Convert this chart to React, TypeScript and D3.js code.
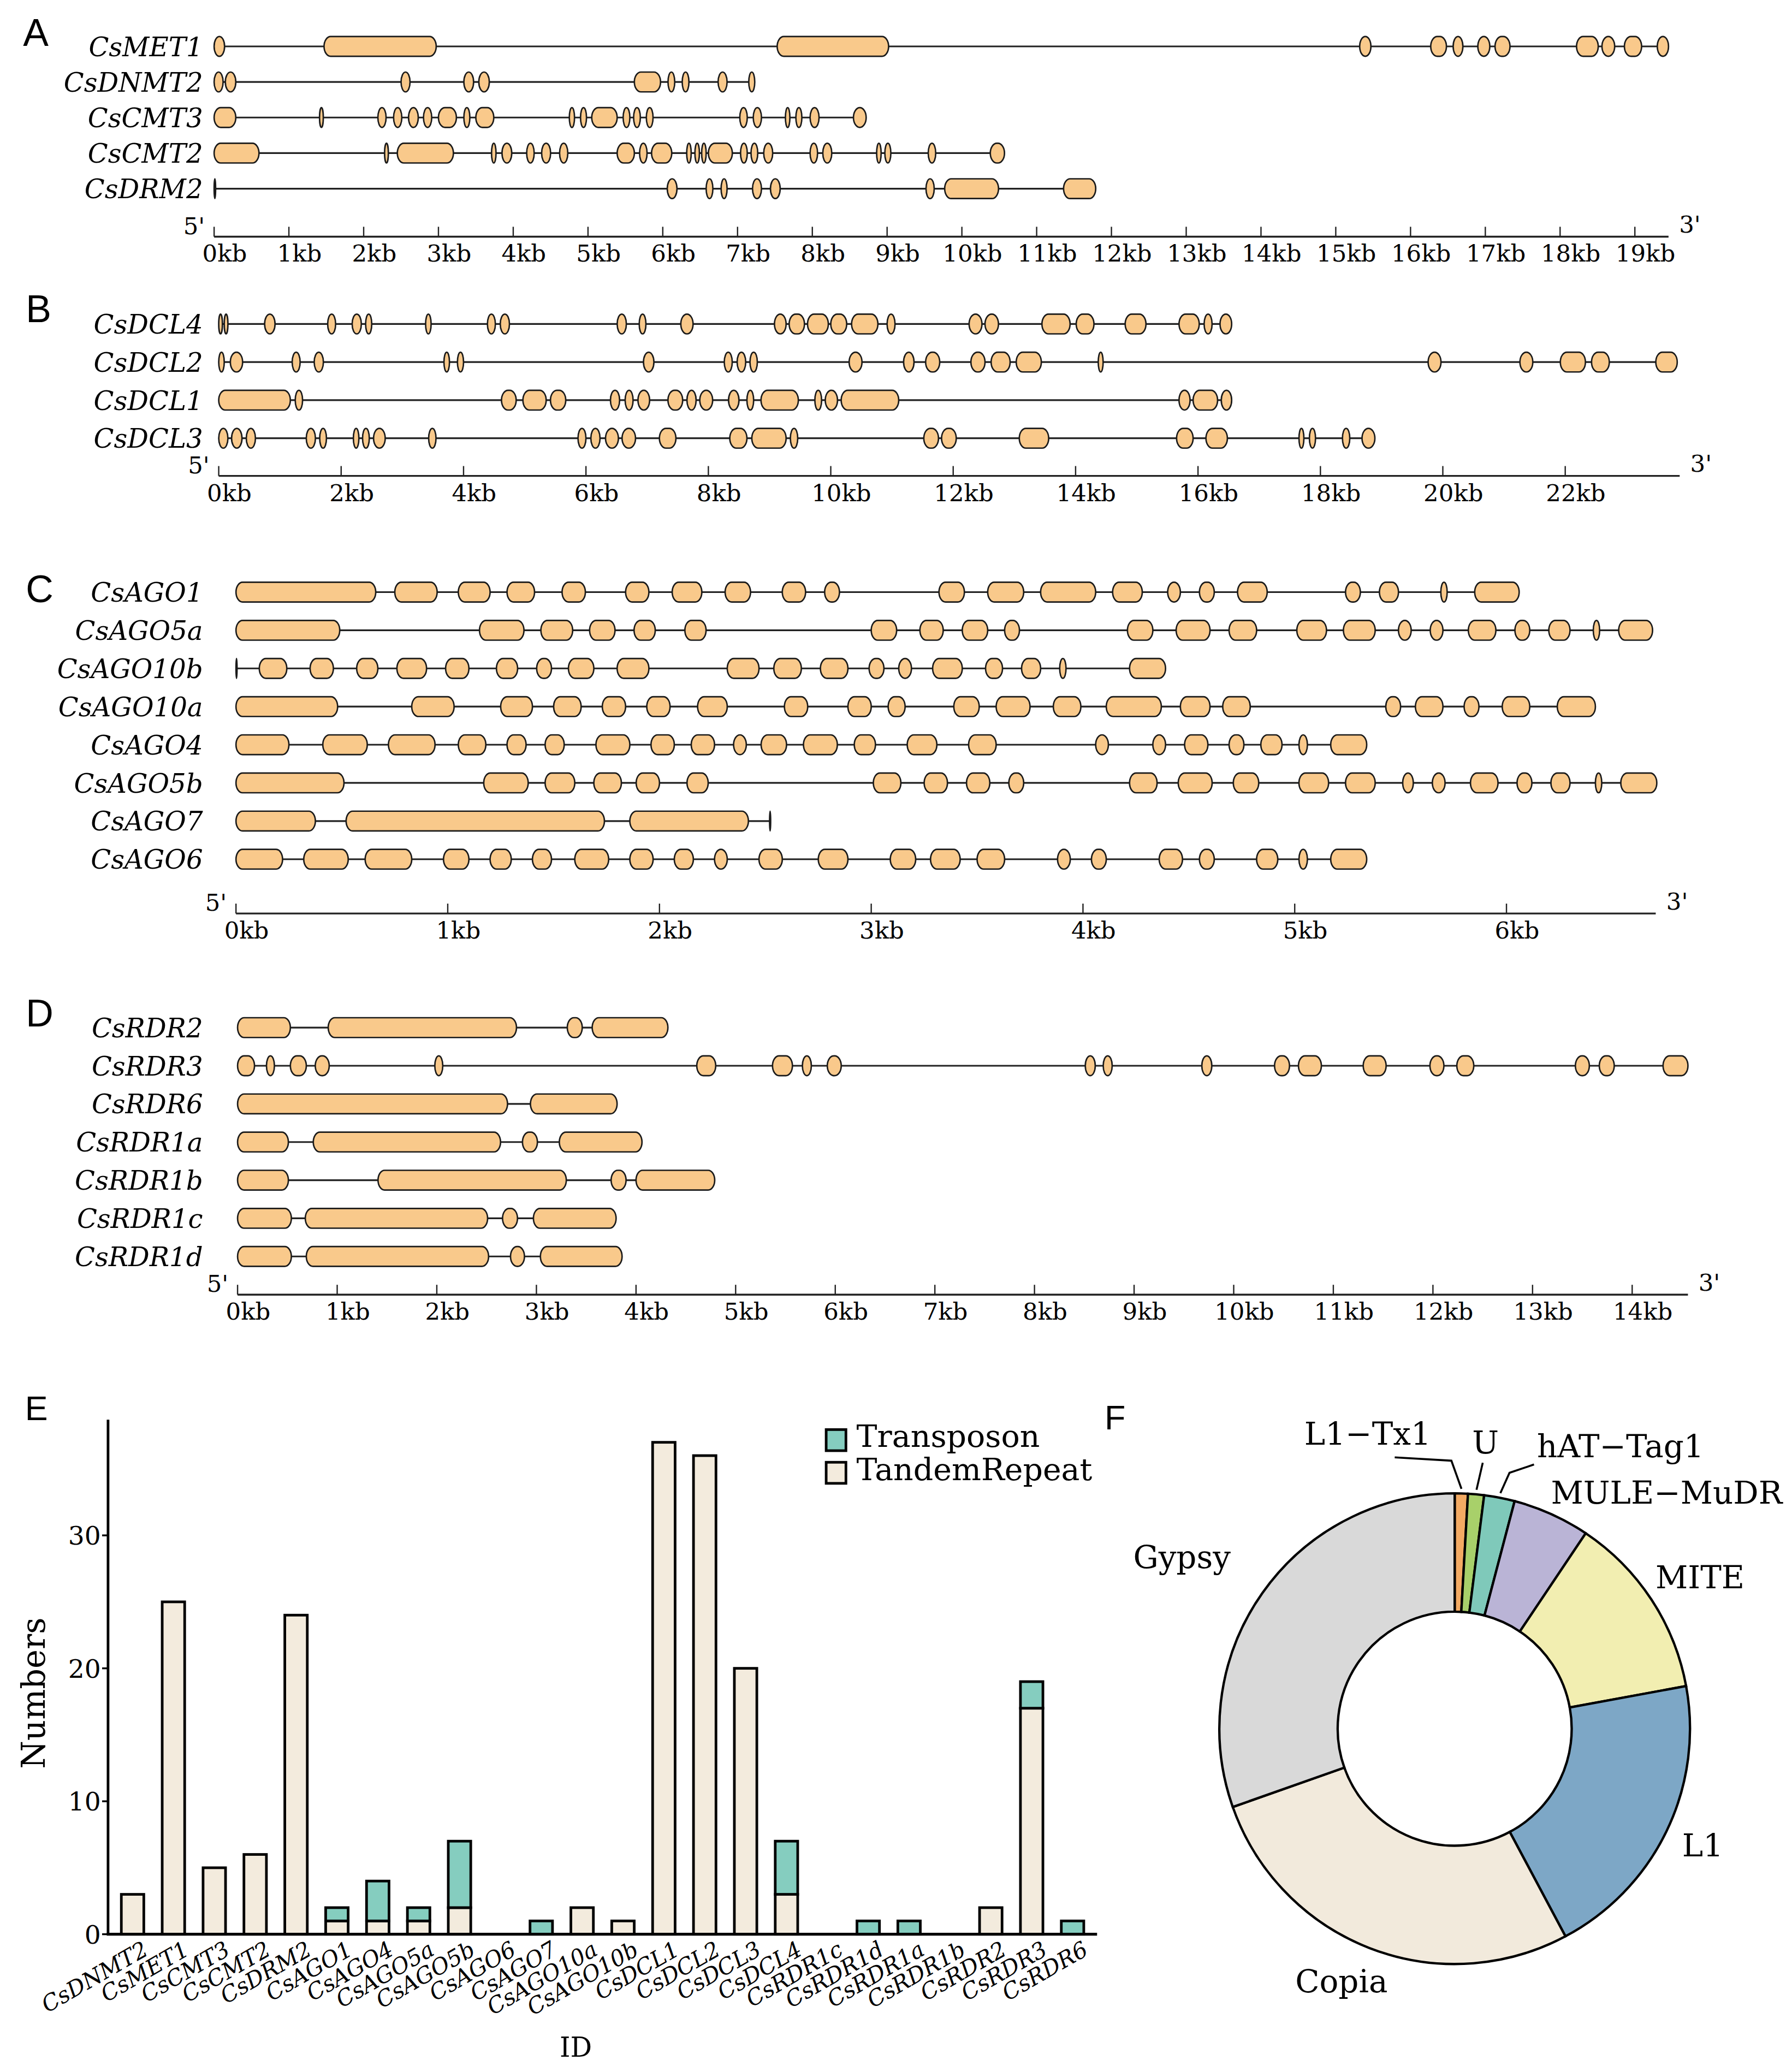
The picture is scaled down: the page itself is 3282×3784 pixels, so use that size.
import React from "react";
import * as d3 from "d3";

// ---------------- DATA ----------------
type Gene = { name: string; exons: [number, number][] };

const panelAGenes: Gene[] = [
  { name: "CsMET1", exons: [[0, 0.14], [1.47, 2.97], [7.53, 9.02], [15.32, 15.47], [16.27, 16.48], [16.57, 16.7], [16.9, 17.06], [17.13, 17.33], [18.22, 18.51], [18.56, 18.73], [18.86, 19.09], [19.3, 19.45]] },
  { name: "CsDNMT2", exons: [[0, 0.12], [0.15, 0.29], [2.5, 2.62], [3.34, 3.47], [3.54, 3.68], [5.62, 5.97], [6.07, 6.16], [6.26, 6.35], [6.74, 6.86], [7.15, 7.23]] },
  { name: "CsCMT3", exons: [[0, 0.29], [1.41, 1.46], [2.19, 2.3], [2.4, 2.51], [2.6, 2.73], [2.8, 2.91], [3.0, 3.24], [3.34, 3.42], [3.5, 3.74], [4.75, 4.82], [4.9, 4.98], [5.05, 5.39], [5.47, 5.56], [5.61, 5.7], [5.78, 5.87], [7.03, 7.13], [7.21, 7.32], [7.64, 7.7], [7.78, 7.86], [7.97, 8.09], [8.55, 8.72]] },
  { name: "CsCMT2", exons: [[0, 0.6], [2.28, 2.33], [2.45, 3.2], [3.71, 3.77], [3.85, 3.98], [4.18, 4.28], [4.38, 4.5], [4.62, 4.73], [5.39, 5.62], [5.69, 5.79], [5.85, 6.12], [6.32, 6.38], [6.43, 6.49], [6.52, 6.58], [6.61, 6.93], [7.04, 7.13], [7.18, 7.27], [7.35, 7.47], [7.97, 8.07], [8.14, 8.26], [8.86, 8.92], [8.97, 9.05], [9.55, 9.65], [10.38, 10.57]] },
  { name: "CsDRM2", exons: [[0, 0.02], [6.06, 6.19], [6.58, 6.67], [6.78, 6.86], [7.2, 7.32], [7.44, 7.57], [9.52, 9.63], [9.77, 10.49], [11.36, 11.79]] },
];

const panelBGenes: Gene[] = [
  { name: "CsDCL4", exons: [[0, 0.06], [0.09, 0.15], [0.75, 0.92], [1.78, 1.91], [2.18, 2.33], [2.4, 2.5], [3.38, 3.47], [4.39, 4.52], [4.6, 4.75], [6.51, 6.66], [6.87, 6.98], [7.55, 7.75], [9.08, 9.27], [9.32, 9.57], [9.62, 9.96], [10.0, 10.26], [10.34, 10.77], [10.92, 11.05], [12.26, 12.47], [12.52, 12.74], [13.45, 13.91], [14.01, 14.3], [14.81, 15.15], [15.69, 16.02], [16.1, 16.23], [16.36, 16.55]] },
  { name: "CsDCL2", exons: [[0, 0.09], [0.19, 0.39], [1.2, 1.33], [1.56, 1.71], [3.68, 3.77], [3.9, 4.0], [6.94, 7.11], [8.26, 8.39], [8.47, 8.61], [8.68, 8.8], [10.3, 10.51], [11.19, 11.36], [11.55, 11.78], [12.29, 12.52], [12.62, 12.93], [13.03, 13.44], [14.37, 14.45], [19.76, 19.97], [21.26, 21.47], [21.92, 22.33], [22.43, 22.72], [23.48, 23.83]] },
  { name: "CsDCL1", exons: [[0, 1.17], [1.25, 1.37], [4.62, 4.86], [4.97, 5.35], [5.42, 5.67], [6.4, 6.55], [6.64, 6.77], [6.85, 7.04], [7.34, 7.58], [7.65, 7.8], [7.86, 8.07], [8.33, 8.5], [8.63, 8.74], [8.86, 9.47], [9.74, 9.85], [9.91, 10.11], [10.17, 11.11], [15.69, 15.87], [15.92, 16.32], [16.38, 16.55]] },
  { name: "CsDCL3", exons: [[0, 0.15], [0.21, 0.38], [0.45, 0.6], [1.43, 1.58], [1.65, 1.76], [2.2, 2.29], [2.35, 2.46], [2.53, 2.72], [3.43, 3.55], [5.87, 6.0], [6.08, 6.23], [6.32, 6.53], [6.59, 6.81], [7.2, 7.47], [8.35, 8.63], [8.71, 9.27], [9.34, 9.46], [11.52, 11.76], [11.81, 12.05], [13.08, 13.56], [15.65, 15.92], [16.13, 16.48], [17.65, 17.73], [17.82, 17.92], [18.36, 18.48], [18.68, 18.89]] },
];

const panelCGenes: Gene[] = [
  { name: "CsAGO1", exons: [[0, 0.66], [0.75, 0.95], [1.05, 1.2], [1.28, 1.41], [1.54, 1.65], [1.84, 1.95], [2.06, 2.2], [2.31, 2.43], [2.58, 2.69], [2.78, 2.85], [3.32, 3.44], [3.55, 3.72], [3.8, 4.06], [4.14, 4.28], [4.4, 4.46], [4.55, 4.62], [4.73, 4.87], [5.24, 5.31], [5.4, 5.49], [5.69, 5.72], [5.85, 6.06]] },
  { name: "CsAGO5a", exons: [[0, 0.49], [1.15, 1.36], [1.44, 1.59], [1.67, 1.79], [1.88, 1.98], [2.12, 2.22], [3.0, 3.12], [3.23, 3.34], [3.43, 3.55], [3.63, 3.7], [4.21, 4.33], [4.44, 4.6], [4.69, 4.82], [5.01, 5.15], [5.23, 5.38], [5.49, 5.55], [5.64, 5.7], [5.82, 5.95], [6.04, 6.11], [6.2, 6.3], [6.41, 6.44], [6.53, 6.69]] },
  { name: "CsAGO10b", exons: [[0, 0.005], [0.11, 0.24], [0.35, 0.46], [0.57, 0.67], [0.76, 0.9], [0.99, 1.1], [1.23, 1.33], [1.42, 1.49], [1.57, 1.69], [1.8, 1.95], [2.32, 2.47], [2.54, 2.67], [2.76, 2.89], [2.99, 3.06], [3.13, 3.19], [3.29, 3.43], [3.54, 3.62], [3.71, 3.8], [3.89, 3.92], [4.22, 4.39]] },
  { name: "CsAGO10a", exons: [[0, 0.48], [0.83, 1.03], [1.25, 1.4], [1.5, 1.63], [1.73, 1.84], [1.94, 2.05], [2.18, 2.32], [2.59, 2.7], [2.89, 3.0], [3.08, 3.16], [3.39, 3.51], [3.59, 3.75], [3.86, 3.99], [4.11, 4.37], [4.46, 4.6], [4.66, 4.79], [5.43, 5.5], [5.57, 5.7], [5.8, 5.87], [5.98, 6.11], [6.24, 6.42]] },
  { name: "CsAGO4", exons: [[0, 0.25], [0.41, 0.62], [0.72, 0.94], [1.05, 1.18], [1.28, 1.37], [1.46, 1.55], [1.7, 1.86], [1.96, 2.07], [2.15, 2.26], [2.35, 2.41], [2.48, 2.6], [2.68, 2.84], [2.92, 3.02], [3.17, 3.31], [3.46, 3.59], [4.06, 4.12], [4.33, 4.39], [4.48, 4.59], [4.69, 4.76], [4.84, 4.94], [5.02, 5.06], [5.17, 5.34]] },
  { name: "CsAGO5b", exons: [[0, 0.51], [1.17, 1.38], [1.46, 1.6], [1.69, 1.82], [1.89, 2.0], [2.13, 2.23], [3.01, 3.14], [3.25, 3.36], [3.45, 3.56], [3.65, 3.72], [4.22, 4.35], [4.45, 4.61], [4.71, 4.83], [5.02, 5.16], [5.24, 5.38], [5.51, 5.56], [5.65, 5.71], [5.83, 5.96], [6.05, 6.12], [6.21, 6.3], [6.42, 6.45], [6.54, 6.71]] },
  { name: "CsAGO7", exons: [[0, 0.375], [0.52, 1.74], [1.86, 2.42], [2.52, 2.525]] },
  { name: "CsAGO6", exons: [[0, 0.22], [0.32, 0.53], [0.61, 0.83], [0.98, 1.1], [1.2, 1.3], [1.4, 1.49], [1.6, 1.76], [1.86, 1.97], [2.07, 2.16], [2.26, 2.32], [2.47, 2.58], [2.75, 2.89], [3.09, 3.21], [3.28, 3.42], [3.5, 3.63], [3.88, 3.94], [4.04, 4.11], [4.36, 4.47], [4.55, 4.62], [4.82, 4.92], [5.02, 5.06], [5.17, 5.34]] },
];

const panelDGenes: Gene[] = [
  { name: "CsRDR2", exons: [[0, 0.53], [0.91, 2.8], [3.31, 3.46], [3.56, 4.32]] },
  { name: "CsRDR3", exons: [[0, 0.17], [0.29, 0.37], [0.53, 0.69], [0.78, 0.92], [1.98, 2.06], [4.61, 4.8], [5.37, 5.57], [5.67, 5.76], [5.92, 6.06], [8.51, 8.61], [8.69, 8.78], [9.68, 9.78], [10.41, 10.56], [10.65, 10.88], [11.3, 11.53], [11.97, 12.11], [12.24, 12.41], [13.43, 13.57], [13.67, 13.82], [14.31, 14.56]] },
  { name: "CsRDR6", exons: [[0, 2.71], [2.94, 3.81]] },
  { name: "CsRDR1a", exons: [[0, 0.51], [0.76, 2.64], [2.86, 3.01], [3.23, 4.06]] },
  { name: "CsRDR1b", exons: [[0, 0.51], [1.41, 3.3], [3.75, 3.9], [4.0, 4.79]] },
  { name: "CsRDR1c", exons: [[0, 0.54], [0.68, 2.51], [2.66, 2.81], [2.97, 3.8]] },
  { name: "CsRDR1d", exons: [[0, 0.54], [0.69, 2.52], [2.74, 2.88], [3.04, 3.86]] },
];

// Panel E
const repeatIds = ["CsDNMT2", "CsMET1", "CsCMT3", "CsCMT2", "CsDRM2", "CsAGO1", "CsAGO4", "CsAGO5a", "CsAGO5b", "CsAGO6", "CsAGO7", "CsAGO10a", "CsAGO10b", "CsDCL1", "CsDCL2", "CsDCL3", "CsDCL4", "CsRDR1c", "CsRDR1d", "CsRDR1a", "CsRDR1b", "CsRDR2", "CsRDR3", "CsRDR6"];
const tandemRepeat = [3, 25, 5, 6, 24, 1, 1, 1, 2, 0, 0, 2, 1, 37, 36, 20, 3, 0, 0, 0, 0, 2, 17, 0];
const transposon = [0, 0, 0, 0, 0, 1, 3, 1, 5, 0, 1, 0, 0, 0, 0, 0, 4, 0, 1, 1, 0, 0, 2, 1];
const yTicksE = [0, 10, 20, 30];
const repeatKeys = ["TandemRepeat", "Transposon"];
const legendKeys = ["Transposon", "TandemRepeat"];

// Panel F
const teTypes = ["L1\u2212Tx1", "U", "hAT\u2212Tag1", "MULE\u2212MuDR", "MITE", "L1", "Copia", "Gypsy"];
const teShares = [0.9, 1.1, 2.1, 5.3, 12.7, 20.1, 27.4, 30.4];

// ---------------- STYLE / LAYOUT ----------------
const SERIF = "'DejaVu Serif', serif";
const SANS = "'Liberation Sans', Arial, sans-serif";
const EXON_FILL = "#F9C98B";
const repeatColors: Record<string, string> = { Transposon: "#85CDBF", TandemRepeat: "#F3EBDD" };
const teColors = ["#F3AA63", "#A8D06A", "#7FC9BA", "#BAB4D6", "#F2EEB1", "#7DA7C6", "#F2EADC", "#D9D9D9"];

type PanelCfg = {
  letter: string; lx: number; ly: number;
  x0: number; pxPerKb: number; axisEnd: number; tickStep: number; tickMax: number;
  rowFirst: number; rowLast: number; axisY: number;
};

const cfgA: PanelCfg = { letter: "A", lx: 17.5, ly: 35, x0: 162.5, pxPerKb: 56.75, axisEnd: 19.45, tickStep: 1, tickMax: 19, rowFirst: 35.2, rowLast: 143.2, axisY: 179.6 };
const cfgB: PanelCfg = { letter: "B", lx: 19.6, ly: 244.5, x0: 166.0, pxPerKb: 46.45, axisEnd: 23.87, tickStep: 2, tickMax: 22, rowFirst: 245.9, rowLast: 332.6, axisY: 361.2 };
const cfgC: PanelCfg = { letter: "C", lx: 19.6, ly: 457, x0: 179.1, pxPerKb: 160.7, axisEnd: 6.705, tickStep: 1, tickMax: 6, rowFirst: 449.4, rowLast: 652.1, axisY: 693.3 };
const cfgD: PanelCfg = { letter: "D", lx: 19.6, ly: 779, x0: 180.3, pxPerKb: 75.6, axisEnd: 14.56, tickStep: 1, tickMax: 14, rowFirst: 779.9, rowLast: 953.6, axisY: 982.6 };

function GenePanel({ genes, cfg }: { genes: Gene[]; cfg: PanelCfg }) {
  const x = d3.scaleLinear().domain([0, cfg.axisEnd]).range([cfg.x0, cfg.x0 + cfg.axisEnd * cfg.pxPerKb]);
  const y = d3.scalePoint<string>().domain(genes.map((g) => g.name)).range([cfg.rowFirst, cfg.rowLast]);
  const ticks = d3.range(0, cfg.tickMax + 0.0001, cfg.tickStep);
  const H = 15;
  return (
    <g>
      <text x={cfg.lx} y={cfg.ly} fontFamily={SANS} fontSize={29}>{cfg.letter}</text>
      {genes.map((g) => {
        const yy = y(g.name) as number;
        const end = d3.max(g.exons, (e) => e[1]) as number;
        return (
          <g key={g.name}>
            <text x={154} y={yy + 7.3} textAnchor="end" fontFamily={SERIF} fontStyle="italic" fontSize={20}>{g.name}</text>
            <line x1={x(0)} x2={x(end)} y1={yy} y2={yy} stroke="#222" strokeWidth={1.3} />
            {g.exons.map(([s, e], i) => {
              const w = Math.max(x(e) - x(s), 0.8);
              return (
                <rect key={i} x={x(s)} y={yy - H / 2} width={w} height={H} rx={Math.min(5, w / 2)} ry={H / 2}
                  fill={EXON_FILL} stroke="#1a1a1a" strokeWidth={1.1} />
              );
            })}
          </g>
        );
      })}
      <line x1={x(0)} x2={x(cfg.axisEnd)} y1={cfg.axisY} y2={cfg.axisY} stroke="#222" strokeWidth={1.4} />
      {ticks.map((t) => (
        <g key={t}>
          <line x1={x(t)} x2={x(t)} y1={cfg.axisY} y2={cfg.axisY - 7.5} stroke="#222" strokeWidth={1} />
          <text x={x(t) + 8} y={cfg.axisY + 19} textAnchor="middle" fontFamily={SERIF} fontSize={18}>{`${t}kb`}</text>
        </g>
      ))}
      <text x={x(0) - 7} y={cfg.axisY - 2} textAnchor="end" fontFamily={SERIF} fontSize={18}>{"5'"}</text>
      <text x={x(cfg.axisEnd) + 8} y={cfg.axisY - 3} textAnchor="start" fontFamily={SERIF} fontSize={18}>{"3'"}</text>
    </g>
  );
}

function RepeatBars() {
  const left = 82, right = 832.6, bottom = 1468, top = 1077.5;
  const step = (right - left) / (repeatIds.length + 0.2);
  const x = d3.scalePoint<string>().domain(repeatIds).range([left + 0.6 * step, right - 0.6 * step]);
  const y = d3.scaleLinear().domain([0, 38.7]).range([bottom, top]);
  const rows = repeatIds.map((id, i) => ({ id, TandemRepeat: tandemRepeat[i], Transposon: transposon[i] }));
  const series = d3.stack<any>().keys(repeatKeys)(rows);
  const bw = 0.55 * step;
  return (
    <g>
      <text x={19} y={1077.7} fontFamily={SANS} fontSize={26}>E</text>
      {series.map((s) => (
        <g key={s.key}>
          {s.map((d, i) => {
            if (d[1] - d[0] <= 0) return null;
            const cx = x(repeatIds[i]) as number;
            return (
              <rect key={i} x={cx - bw / 2} y={y(d[1])} width={bw} height={y(d[0]) - y(d[1])}
                fill={repeatColors[s.key]} stroke="#000" strokeWidth={2} />
            );
          })}
        </g>
      ))}
      <line x1={left} x2={left} y1={top} y2={bottom} stroke="#000" strokeWidth={2} />
      <line x1={left - 1} x2={right} y1={bottom} y2={bottom} stroke="#000" strokeWidth={2.2} />
      {yTicksE.map((t) => (
        <g key={t}>
          <line x1={left - 4.5} x2={left} y1={y(t)} y2={y(t)} stroke="#000" strokeWidth={1.4} />
          <text x={left - 5.5} y={y(t) + 7} textAnchor="end" fontFamily={SERIF} fontSize={19.5}>{t}</text>
        </g>
      ))}
      {repeatIds.map((id) => {
        const cx = x(id) as number;
        return (
          <text key={id} x={cx + 13} y={1483} textAnchor="end" fontFamily={SERIF} fontStyle="italic" fontSize={17}
            transform={`rotate(-30, ${cx + 13}, 1483)`}>{id}</text>
        );
      })}
      <text x={34} y={1285} textAnchor="middle" fontFamily={SERIF} fontSize={24.5} transform="rotate(-90, 34, 1285)">Numbers</text>
      <text x={437} y={1561} textAnchor="middle" fontFamily={SERIF} fontSize={20.5}>ID</text>
      {legendKeys.map((k, i) => (
        <g key={k}>
          <rect x={627} y={1085 + i * 24.8} width={15} height={16} fill={repeatColors[k]} stroke="#000" strokeWidth={2} />
          <text x={650} y={1098 + i * 25.4} fontFamily={SERIF} fontSize={23.6}>{k}</text>
        </g>
      ))}
    </g>
  );
}

const teLabelPos = [
  { x: 1086, y: 1096.6, anchor: "end", elbow: [[1101.5, 1108.6], [1058.5, 1106.1]] },
  { x: 1127.4, y: 1102.9, anchor: "middle", elbow: [[1125.3, 1110.2]] },
  { x: 1166.5, y: 1106.1, anchor: "start", elbow: [[1145.6, 1117.8], [1164.2, 1111.5]] },
  { x: 1177, y: 1141, anchor: "start", elbow: null },
  { x: 1256.4, y: 1205.3, anchor: "start", elbow: null },
  { x: 1276.6, y: 1408.9, anchor: "start", elbow: null },
  { x: 983, y: 1511.9, anchor: "start", elbow: null },
  { x: 860, y: 1190.1, anchor: "start", elbow: null },
];

function TEDonut() {
  const cx = 1104, cy = 1312, rOut = 178.6, rIn = 88.8;
  const arcs = d3.pie<number>().sort(null).value((d) => d)(teShares);
  const arc = d3.arc<d3.PieArcDatum<number>>().innerRadius(rIn).outerRadius(rOut);
  return (
    <g>
      <text x={838.3} y={1084.8} fontFamily={SANS} fontSize={26}>F</text>
      <g transform={`translate(${cx},${cy})`}>
        {arcs.map((a, i) => (
          <path key={i} d={arc(a) as string} fill={teColors[i]} stroke="#000" strokeWidth={1.8} />
        ))}
      </g>
      {teLabelPos.map((p, i) => {
        const a = arcs[i];
        const mid = (a.startAngle + a.endAngle) / 2;
        const sx = cx + (rOut + 3.5) * Math.sin(mid);
        const sy = cy - (rOut + 3.5) * Math.cos(mid);
        const pts = p.elbow ? [[sx, sy], ...p.elbow] : null;
        return (
          <g key={i}>
            {pts && <path d={d3.line()(pts as [number, number][]) as string} fill="none" stroke="#000" strokeWidth={1.5} />}
            <text x={p.x} y={p.y} textAnchor={p.anchor as any} fontFamily={SERIF} fontSize={24}>{teTypes[i]}</text>
          </g>
        );
      })}
    </g>
  );
}

export default function App() {
  return (
    <svg width={3282} height={3784} viewBox="0 0 1360 1568" style={{ position: "absolute", left: 0, top: 0, background: "#fff" }}>
      <rect x={0} y={0} width={1360} height={1568} fill="#fff" />
      <GenePanel genes={panelAGenes} cfg={cfgA} />
      <GenePanel genes={panelBGenes} cfg={cfgB} />
      <GenePanel genes={panelCGenes} cfg={cfgC} />
      <GenePanel genes={panelDGenes} cfg={cfgD} />
      <RepeatBars />
      <TEDonut />
    </svg>
  );
}
